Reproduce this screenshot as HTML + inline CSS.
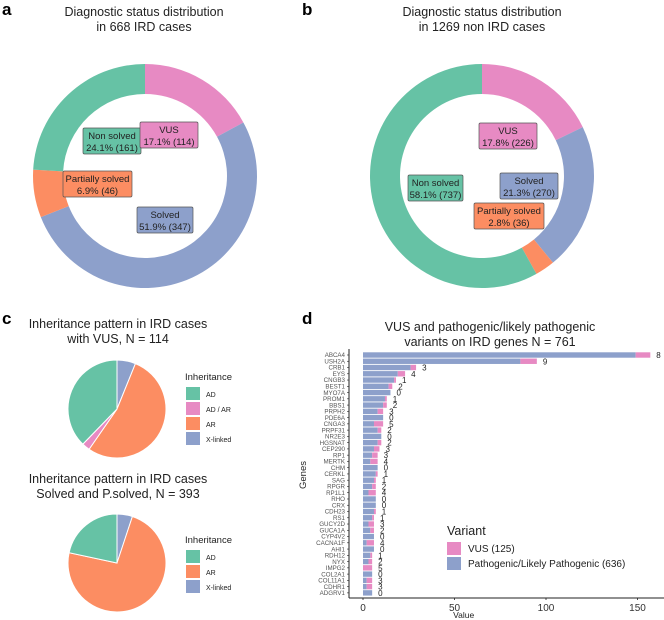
<!DOCTYPE html>
<html><head><meta charset="utf-8">
<style>
html,body{margin:0;padding:0;background:#fff;}
svg{display:block;font-family:"Liberation Sans",Arial,sans-serif;}
</style></head>
<body>
<svg id="fig" width="664" height="620" viewBox="0 0 664 620">
  <text x="2" y="15" font-size="17" font-weight="bold">a</text>
  <text x="144" y="16" font-size="12.5" text-anchor="middle" fill="#222"><tspan x="144">Diagnostic status distribution</tspan><tspan x="144" dy="15">in 668 IRD cases</tspan></text>
  <text x="302" y="15" font-size="17" font-weight="bold">b</text>
  <text x="482" y="16" font-size="12.5" text-anchor="middle" fill="#222"><tspan x="482">Diagnostic status distribution</tspan><tspan x="482" dy="15">in 1269 non IRD cases</tspan></text>
  <text x="2" y="324" font-size="17" font-weight="bold">c</text>
  <text x="118" y="328" font-size="12.5" text-anchor="middle" fill="#222"><tspan x="118">Inheritance pattern in IRD cases</tspan><tspan x="118" dy="15">with VUS, N = 114</tspan></text>
  <text x="118" y="483" font-size="12.5" text-anchor="middle" fill="#222"><tspan x="118">Inheritance pattern in IRD cases</tspan><tspan x="118" dy="15">Solved and P.solved, N = 393</tspan></text>
  <text x="302" y="324" font-size="17" font-weight="bold">d</text>
  <text x="490" y="331" font-size="12.5" text-anchor="middle" fill="#222"><tspan x="490">VUS and pathogenic/likely pathogenic</tspan><tspan x="490" dy="15">variants on IRD genes N = 761</tspan></text>
  <g id="donutA"></g><g id="donutB"></g><g id="pie1"></g><g id="pie2"></g><g id="bars"></g>
</svg>
<script>
const C={green:"#66c2a5",orange:"#fc8d62",blue:"#8da0cb",pink:"#e78ac3"};
// Panel a (clockwise from top): VUS, Solved, Partially solved, Non solved
const aCats=["VUS","Solved","Partially solved","Non solved"];
const aVals=[114,347,46,161];
// Panel b
const bCats=["VUS","Solved","Partially solved","Non solved"];
const bVals=[226,270,36,737];
// Panel c pies (clockwise from top)
const p1Cats=["X-linked","AR","AD / AR","AD"];
const p1Vals=[7,61,3,43];
const p2Cats=["X-linked","AR","AD"];
const p2Vals=[20,288,85];
// Panel d
const genes=["ABCA4","USH2A","CRB1","EYS","CNGB3","BEST1","MYO7A","PROM1","BBS1","PRPH2","PDE6A","CNGA3","PRPF31","NR2E3","HGSNAT","CEP290","RP1","MERTK","CHM","CERKL","SAG","RPGR","RP1L1","RHO","CRX","CDH23","RS1","GUCY2D","GUCA1A","CYP4V2","CACNA1F","AHI1","RDH12","NYX","IMPG2","COL2A1","COL11A1","CDHR1","ADGRV1"];
const pathVals=[149,86,26,19,17,14,15,12,11,8,11,6,8,10,8,6,5,4,8,7,6,5,3,7,7,6,5,3,4,6,2,6,4,3,0,5,2,2,5];
const vusVals=[8,9,3,4,1,2,0,1,2,3,0,5,2,0,2,3,3,4,0,1,1,2,4,0,0,1,1,3,2,0,4,0,1,2,5,0,3,3,0];
const xTicks=[0,50,100,150];

const NS="http://www.w3.org/2000/svg";
function mk(tag,attrs,parent){const e=document.createElementNS(NS,tag);for(const k in attrs)e.setAttribute(k,attrs[k]);parent.appendChild(e);return e;}
const colMap={"VUS":C.pink,"Solved":C.blue,"Partially solved":C.orange,"Non solved":C.green,"X-linked":C.blue,"AR":C.orange,"AD / AR":C.pink,"AD":C.green};
function arcPath(cx,cy,R,r,a0,a1){
  const p=(rad,a)=>[cx+rad*Math.sin(a),cy-rad*Math.cos(a)];
  const large=(a1-a0)>Math.PI?1:0;
  const [x0,y0]=p(R,a0),[x1,y1]=p(R,a1);
  if(r>0){const [x2,y2]=p(r,a1),[x3,y3]=p(r,a0);
    return `M${x0},${y0}A${R},${R} 0 ${large} 1 ${x1},${y1}L${x2},${y2}A${r},${r} 0 ${large} 0 ${x3},${y3}Z`;}
  return `M${cx},${cy}L${x0},${y0}A${R},${R} 0 ${large} 1 ${x1},${y1}Z`;
}
function ring(gid,cats,vals,cx,cy,R,r,stroke){
  const g=document.getElementById(gid);const tot=vals.reduce((s,v)=>s+v,0);let a=0;
  cats.forEach((c,i)=>{const a1=a+vals[i]/tot*2*Math.PI;
    const p=mk("path",{d:arcPath(cx,cy,R,r,a,a1),fill:colMap[c],stroke:stroke,"stroke-width":stroke?1:0},g);
    
    
    a=a1;});
}
ring("donutA",aCats,aVals,145,176,112,82,null);
ring("donutB",bCats,bVals,482,176,112,82,null);
ring("pie1",p1Cats,p1Vals,117,409,49,0,"#fff");
ring("pie2",p2Cats,p2Vals,117,563,49,0,"#fff");

function labelBox(gid,cat,vals,i,x,y,w){
  const g=document.getElementById(gid);const tot=vals.reduce((s,v)=>s+v,0);
  const bx=mk("g",{},g);
  
  
  mk("rect",{x:x,y:y,width:w,height:26,rx:1.5,fill:colMap[cat],stroke:"#555","stroke-width":0.7},bx);
  const t1=mk("text",{x:x+w/2,y:y+11,"font-size":"9.5","text-anchor":"middle",fill:"#222"},bx);t1.textContent=cat;
  const t2=mk("text",{x:x+w/2,y:y+23,"font-size":"9.5","text-anchor":"middle",fill:"#222"},bx);
  t2.textContent=(vals[i]/tot*100).toFixed(1)+"% ("+vals[i]+")";
}
labelBox("donutA","Non solved",aVals,3,83,128,58);
labelBox("donutA","VUS",aVals,0,140,122,58);
labelBox("donutA","Partially solved",aVals,2,63,171,69);
labelBox("donutA","Solved",aVals,1,137,207,56);
labelBox("donutB","VUS",bVals,0,479,123,58);
labelBox("donutB","Non solved",bVals,3,408,175,55);
labelBox("donutB","Solved",bVals,1,500,173,58);
labelBox("donutB","Partially solved",bVals,2,474,203,70);

function legend(gid,cats,x,y){
  const g=document.getElementById(gid);
  const lg=mk("g",{},g);
  
  
  const t=mk("text",{x:x,y:y,"font-size":"9.5",fill:"#222"},lg);t.textContent="Inheritance";
  cats.forEach((c,i)=>{
    const r=mk("rect",{x:x+1,y:y+7+i*15,width:14,height:13,fill:colMap[c]},lg);
    
    
    const tt=mk("text",{x:x+21,y:y+17+i*15,"font-size":"7",fill:"#222"},lg);tt.textContent=c;
  });
}
legend("pie1",["AD","AD / AR","AR","X-linked"],185,380);
legend("pie2",["AD","AR","X-linked"],185,543);

// bar chart
const bg=document.getElementById("bars");
const x0=363,pxPer=1.83,yTop=355,rowH=6.26,axX=349,axY=598;
const xs=v=>x0+v*pxPer, ys=i=>yTop+i*rowH;
mk("line",{x1:axX,y1:349,x2:axX,y2:axY,stroke:"#222","stroke-width":1},bg);
mk("line",{x1:axX,y1:axY,x2:664,y2:axY,stroke:"#222","stroke-width":1},bg);
genes.forEach((gn,i)=>{
  const y=ys(i);
  const lb=mk("text",{x:345,y:y+2.2,"font-size":"6.2","text-anchor":"end",fill:"#555"},bg);lb.textContent=gn;
  mk("line",{x1:axX-2,y1:y,x2:axX,y2:y,stroke:"#222","stroke-width":0.6},bg);
  const r1=mk("rect",{x:xs(0),y:y-2.7,width:xs(pathVals[i])-xs(0),height:5.4,fill:C.blue},bg);
  
  
  const r2=mk("rect",{x:xs(pathVals[i]),y:y-2.7,width:xs(pathVals[i]+vusVals[i])-xs(pathVals[i]),height:5.4,fill:C.pink},bg);
  
  
  const vl=mk("text",{x:xs(pathVals[i]+vusVals[i])+6,y:y+3,"font-size":"8",fill:"#222"},bg);vl.textContent=vusVals[i];
});
xTicks.forEach(t=>{
  mk("line",{x1:xs(t),y1:axY,x2:xs(t),y2:axY+2,stroke:"#222","stroke-width":0.8},bg);
  const tl=mk("text",{x:xs(t),y:axY+13,"font-size":"10","text-anchor":"middle",fill:"#333"},bg);tl.textContent=t;
});
const xt=mk("text",{x:xs(55),y:618,"font-size":"8.5","text-anchor":"middle",fill:"#222"},bg);xt.textContent="Value";

const yt=mk("text",{x:306,y:475,"font-size":"9.5","text-anchor":"middle",fill:"#222",transform:"rotate(-90 306 475)"},bg);yt.textContent="Genes";

const vl=mk("g",{},bg);


mk("text",{x:447,y:535,"font-size":"12.5",fill:"#222"},vl).textContent="Variant";
mk("rect",{x:447,y:542,width:14,height:13,fill:C.pink},vl);
mk("rect",{x:447,y:557,width:14,height:13,fill:C.blue},vl);
mk("text",{x:468,y:552,"font-size":"10",fill:"#222"},vl).textContent="VUS (125)";
mk("text",{x:468,y:567,"font-size":"10",fill:"#222"},vl).textContent="Pathogenic/Likely Pathogenic (636)";
</script>
</body></html>
